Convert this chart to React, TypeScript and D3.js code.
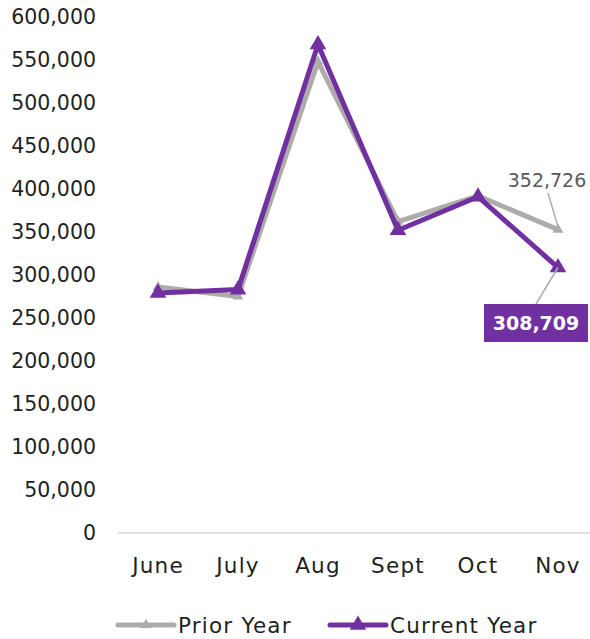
import React from 'react';
import * as d3 from 'd3';

const months = ['June', 'July', 'Aug', 'Sept', 'Oct', 'Nov'];
const priorYear = [286000, 275000, 548000, 362000, 392000, 352726];
const currentYear = [279000, 283000, 568000, 352000, 391000, 308709];
const yTicks = [0, 50000, 100000, 150000, 200000, 250000, 300000, 350000, 400000, 450000, 500000, 550000, 600000];

const PURPLE = '#7030a0';
const GRAY = '#aeabab';
const FONT = "'Century Gothic', 'DejaVu Sans', sans-serif";

const App = () => {
  const width = 590;
  const height = 639;

  const x = d3.scaleBand().domain(months).range([118, 598]);
  const y = d3.scaleLinear().domain([0, 600000]).range([533, 17]);
  const fmt = d3.format(',');

  const line = d3.line<number>()
    .x((_, i) => x(months[i])! + x.bandwidth() / 2)
    .y(d => y(d));

  const triBig = d3.symbol(d3.symbolTriangle, 120)()!;
  const triSmall = d3.symbol(d3.symbolTriangle, 50)()!;

  const cx = (i: number) => x(months[i])! + x.bandwidth() / 2;
  const last = months.length - 1;

  return (
    <svg width={width} height={height} style={{ position: 'absolute', left: 0, top: 0 }} fontFamily={FONT}>
      {/* y axis labels */}
      {yTicks.map(t => (
        <text key={t} x={96} y={y(t)} dy="0.36em" textAnchor="end" fontSize={20.5} fill="#1f1f1f">
          {fmt(t)}
        </text>
      ))}
      {/* baseline */}
      <line x1={118} x2={598} y1={y(0)} y2={y(0)} stroke="#d9d9d9" strokeWidth={1.5} />
      {/* x labels */}
      {months.map(m => (
        <text key={m} x={x(m)! + x.bandwidth() / 2} y={565} dy="0.36em" textAnchor="middle" fontSize={21.5} letterSpacing={1.2} fill="#1f1f1f">
          {m}
        </text>
      ))}

      {/* prior year */}
      <path d={line(priorYear)!} fill="none" stroke={GRAY} strokeWidth={5} strokeLinejoin="round" />
      {priorYear.map((v, i) => (
        <path key={i} d={triSmall} transform={`translate(${cx(i)},${y(v)})`} fill={GRAY} />
      ))}

      {/* current year */}
      <path d={line(currentYear)!} fill="none" stroke={PURPLE} strokeWidth={5} strokeLinejoin="round" />
      {currentYear.map((v, i) => (
        <path key={i} d={triBig} transform={`translate(${cx(i)},${y(v)})`} fill={PURPLE} />
      ))}

      {/* prior year label */}
      <line x1={cx(last) - 10} y1={193} x2={cx(last)} y2={y(priorYear[last]) - 3} stroke={GRAY} strokeWidth={1.5} />
      <text x={547} y={180} dy="0.36em" textAnchor="middle" fontSize={19} fill="#595959">
        {fmt(priorYear[last])}
      </text>

      {/* current year label */}
      <line x1={cx(last)} y1={y(currentYear[last])} x2={536} y2={304} stroke={GRAY} strokeWidth={1.5} />
      <rect x={484} y={304} width={104} height={38} fill={PURPLE} />
      <text x={536} y={323} dy="0.36em" textAnchor="middle" fontSize={19} fontWeight="bold" fill="#ffffff">
        {fmt(currentYear[last])}
      </text>

      {/* legend */}
      <line x1={118} x2={174} y1={625} y2={625} stroke={GRAY} strokeWidth={5} strokeLinecap="round" />
      <path d={triSmall} transform="translate(146,625)" fill={GRAY} />
      <text x={178} y={625} dy="0.36em" fontSize={21.5} letterSpacing={1.2} fill="#1f1f1f">Prior Year</text>
      <line x1={330} x2={386} y1={625} y2={625} stroke={PURPLE} strokeWidth={5} strokeLinecap="round" />
      <path d={triBig} transform="translate(358,625)" fill={PURPLE} />
      <text x={390} y={625} dy="0.36em" fontSize={21.5} letterSpacing={1.2} fill="#1f1f1f">Current Year</text>
    </svg>
  );
};

export default App;
